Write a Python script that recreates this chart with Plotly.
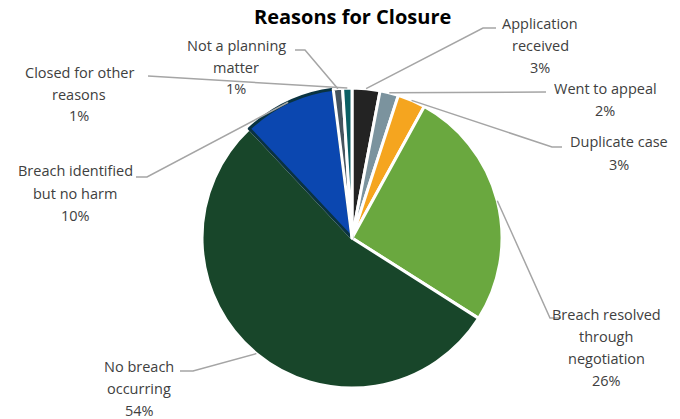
import math
import plotly.graph_objects as go

# slices, clockwise from 12 o'clock
labels = ["Application received", "Went to appeal", "Duplicate case",
          "Breach resolved through negotiation", "No breach occurring",
          "Breach identified but no harm", "Not a planning matter",
          "Closed for other reasons"]
values = [3, 2, 3, 26, 54, 10, 1, 1]
colors = ["#232323", "#7b939e", "#f5a51f", "#6aa83f", "#18462a",
          "#0b47b0", "#45545e", "#0a5f64"]
edge_colors = ["white", "white", "white", "white", "white",
               "#0a3341", "white", "white"]
# label text lines
label_lines = [["Application", "received", "3%"],
               ["Went to appeal", "2%"],
               ["Duplicate case", "3%"],
               ["Breach resolved", "through", "negotiation", "26%"],
               ["No breach", "occurring", "54%"],
               ["Breach identified", "but no harm", "10%"],
               ["Not a planning", "matter", "1%"],
               ["Closed for other", "reasons", "1%"]]
# label centre x, first line y, elbow point, line end (pixels)
label_pos = [(540, 23, (483, 28), (496, 28)),
             (605, 88, (546, 92), (546, 92)),
             (619, 142, (552, 147), (562, 147)),
             (606, 314, (550, 318), (561, 318)),
             (139, 366, (193, 371), (180, 371)),
             (75, 171, (147, 177), (136, 177)),
             (236, 45, (305, 50), (295, 50)),
             (79, 72, (148, 76), (148, 76))]

W, H = 680, 419
cx, cy, r = 352, 238, 150


def px(x):
    return x / W


def py(y):
    return 1 - y / H


fig = go.Figure(go.Pie(
    labels=labels,
    values=values,
    sort=False,
    direction="clockwise",
    rotation=0,
    textinfo="none",
    hoverinfo="label+percent",
    marker=dict(colors=colors, line=dict(color=edge_colors, width=3)),
    domain=dict(x=[px(cx - r), px(cx + r)], y=[py(cy + r), py(cy - r)]),
    showlegend=False))

shapes = []
annotations = []
total = sum(values)
acc = 0
for i, v in enumerate(values):
    mid = (acc + v / 2) / total * 2 * math.pi
    acc += v
    sx = cx + r * math.sin(mid)
    sy = cy - r * math.cos(mid)
    lx, ly, elbow, end = label_pos[i]
    path = "M {},{} L {},{} L {},{}".format(px(sx), py(sy), px(elbow[0]), py(elbow[1]),
                                            px(end[0]), py(end[1]))
    shapes.append(dict(type="path", xref="paper", yref="paper", path=path,
                       line=dict(color="#a5a5a5", width=1.5)))
    for k, t in enumerate(label_lines[i]):
        annotations.append(dict(
            x=px(lx), y=py(ly + 22 * k), xref="paper", yref="paper",
            text=t, showarrow=False, xanchor="center", yanchor="middle",
            font=dict(size=14.5, color="#404040")))

annotations.append(dict(
    x=px(352), y=py(17), xref="paper", yref="paper",
    text="<b>Reasons for Closure</b>", showarrow=False,
    xanchor="center", yanchor="middle",
    font=dict(size=20, color="#000000")))

fig.update_layout(
    width=W, height=H,
    margin=dict(l=0, r=0, t=0, b=0),
    paper_bgcolor="white",
    font=dict(family="Open Sans, Noto Sans, sans-serif"),
    shapes=shapes,
    annotations=annotations)

fig.write_html("out.html", config={"displayModeBar": False},
               post_script="document.body.style.margin='0';")
